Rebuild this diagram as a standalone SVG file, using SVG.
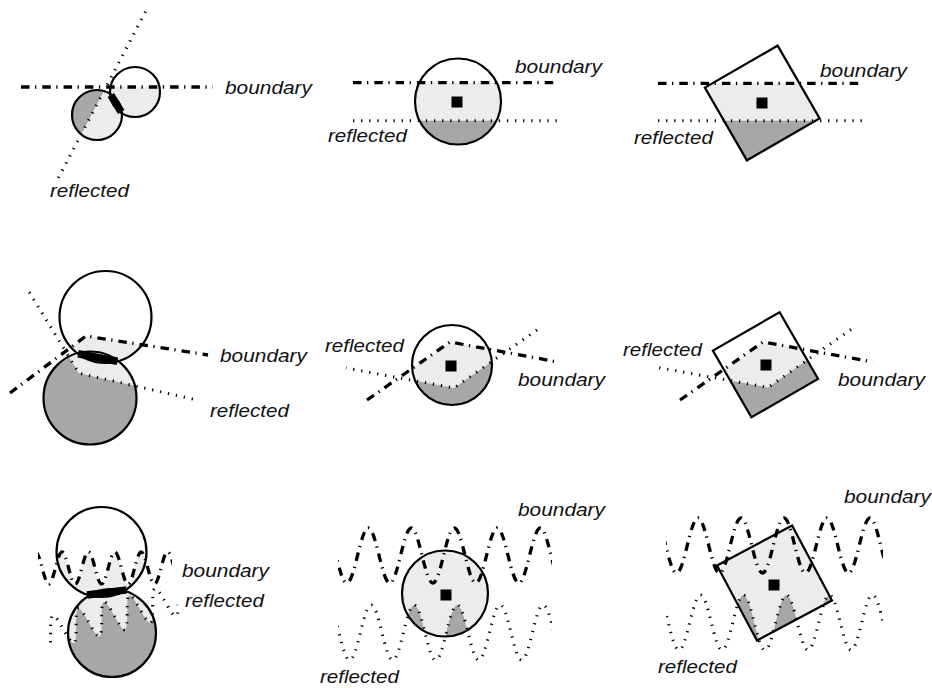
<svg xmlns="http://www.w3.org/2000/svg" width="932" height="688" viewBox="0 0 932 688">
<style>
.lt{fill:#ececec}
.dk{fill:#a7a7a7}
.ol{fill:none;stroke:#000;stroke-width:2.2}
.bd{fill:none;stroke:#000;stroke-width:3.3;stroke-dasharray:8.5 5.5 1.3 6}
.rf{fill:none;stroke:#000;stroke-width:3;stroke-dasharray:1.3 6.8}
.bar{stroke:#000;stroke-width:7.5}
.sq{fill:#000}
.lbl{font-family:"Liberation Sans",Arial,sans-serif;font-style:italic;font-size:19px;fill:#111}
</style>
<defs>
<clipPath id="c1a"><circle cx="135" cy="92" r="25"/></clipPath>
<clipPath id="c1b"><circle cx="97" cy="115" r="25"/></clipPath>
<clipPath id="c2"><circle cx="458" cy="101.5" r="43"/></clipPath>
<clipPath id="c3"><rect x="-42" y="-42" width="84" height="84" transform="translate(762.25,103) rotate(-30)"/></clipPath>
<clipPath id="c4a"><circle cx="105.5" cy="317" r="46"/></clipPath>
<clipPath id="c4b"><circle cx="90" cy="398" r="46.5"/></clipPath>
<clipPath id="c5"><circle cx="452" cy="365" r="40"/></clipPath>
<clipPath id="c6"><rect x="-38.5" y="-38.5" width="77" height="77" transform="translate(765.5,364.75) rotate(-30)"/></clipPath>
<clipPath id="c7a"><circle cx="101.5" cy="552" r="45"/></clipPath>
<clipPath id="c7b"><circle cx="112" cy="633" r="44"/></clipPath>
<clipPath id="c8"><circle cx="445" cy="593.5" r="43"/></clipPath>
<clipPath id="c9"><rect x="-42.5" y="-42.5" width="85" height="85" transform="translate(774.5,583) rotate(-28)"/></clipPath>
<clipPath id="w7"><rect x="38" y="400" width="134" height="300"/></clipPath>
<clipPath id="w8"><rect x="338" y="400" width="214" height="300"/></clipPath>
<clipPath id="w9"><rect x="666" y="400" width="217" height="300"/></clipPath>
</defs>
<rect width="932" height="688" fill="#fff"/>

<g id="panel1">
  <rect class="lt" x="100" y="87" width="70" height="40" clip-path="url(#c1a)"/>
  <circle class="lt" cx="97" cy="115" r="25"/>
  <g clip-path="url(#c1b)"><path class="dk" d="M0,87 L240,87 L240,-40 L0,-40 Z" transform="translate(116,103.5) rotate(58.83) scale(1,-1) rotate(-58.83) translate(-116,-103.5)"/></g>
  <path class="bd" d="M21,87 L213,87"/>
  <path class="rf" d="M21,87 L213,87" transform="translate(116,103.5) rotate(58.83) scale(1,-1) rotate(-58.83) translate(-116,-103.5)"/>
  <circle class="ol" cx="135" cy="92" r="25"/>
  <circle class="ol" cx="97" cy="115" r="25"/>
  <line class="bar" x1="110.8" y1="95" x2="121.2" y2="112"/>
  <text class="lbl" x="225" y="94" textLength="87" lengthAdjust="spacingAndGlyphs">boundary</text>
  <text class="lbl" x="50" y="197" textLength="79" lengthAdjust="spacingAndGlyphs">reflected</text>
</g>

<g id="panel2">
  <rect class="lt" x="410" y="82.7" width="100" height="70" clip-path="url(#c2)"/>
  <rect class="dk" x="410" y="120.7" width="100" height="40" clip-path="url(#c2)"/>
  <path class="bd" d="M353,82.7 L558,82.7"/>
  <path class="rf" d="M353,120.7 L560,120.7"/>
  <circle class="ol" cx="458" cy="101.5" r="43"/>
  <rect class="sq" x="451.5" y="96.5" width="11" height="11"/>
  <text class="lbl" x="515" y="72.5" textLength="87" lengthAdjust="spacingAndGlyphs">boundary</text>
  <text class="lbl" x="328" y="141.5" textLength="79" lengthAdjust="spacingAndGlyphs">reflected</text>
</g>

<g id="panel3">
  <rect class="lt" x="690" y="83.3" width="150" height="90" clip-path="url(#c3)"/>
  <rect class="dk" x="690" y="120.7" width="150" height="60" clip-path="url(#c3)"/>
  <path class="bd" d="M658,83.3 L863,83.3"/>
  <path class="rf" d="M658,120.7 L865,120.7"/>
  <rect class="ol" x="-42" y="-42" width="84" height="84" transform="translate(762.25,103) rotate(-30)"/>
  <rect class="sq" x="756.5" y="97.5" width="11" height="11"/>
  <text class="lbl" x="820" y="77" textLength="87" lengthAdjust="spacingAndGlyphs">boundary</text>
  <text class="lbl" x="634" y="144" textLength="79" lengthAdjust="spacingAndGlyphs">reflected</text>
</g>

<g id="panel4">
  <path class="lt" d="M-30,423 L86,336 L260,363.1 L260,500 L-30,500 Z" clip-path="url(#c4a)"/>
  <circle class="lt" cx="90" cy="398" r="46.5"/>
  <g clip-path="url(#c4b)"><path class="dk" d="M-30,423 L86,336 L260,363.1 L260,200 L-30,200 Z" transform="translate(97.75,357.5) rotate(10.84) scale(1,-1) rotate(-10.84) translate(-97.75,-357.5)"/></g>
  <path class="bd" d="M10,393 L86,336 L208,355"/>
  <path class="rf" d="M10,393 L86,336 L208,355" transform="translate(97.75,357.5) rotate(10.84) scale(1,-1) rotate(-10.84) translate(-97.75,-357.5)"/>
  <circle class="ol" cx="105.5" cy="317" r="46"/>
  <circle class="ol" cx="90" cy="398" r="46.5"/>
  <line class="bar" x1="78.1" y1="353.7" x2="117.4" y2="361.3"/>
  <text class="lbl" x="220" y="362" textLength="87" lengthAdjust="spacingAndGlyphs">boundary</text>
  <text class="lbl" x="210" y="417" textLength="79" lengthAdjust="spacingAndGlyphs">reflected</text>
</g>

<g id="panel5">
  <path class="lt" d="M330,425.9 L450,342 L600,369.8 L600,480 L330,480 Z" clip-path="url(#c5)"/>
  <g clip-path="url(#c5)"><path class="dk" d="M330,425.9 L450,342 L600,369.8 L600,250 L330,250 Z" transform="rotate(180,452,365)"/></g>
  <path class="bd" d="M367,400 L450,342 L558,362"/>
  <path class="rf" d="M367,400 L450,342 L558,362" transform="rotate(180,452,365)"/>
  <circle class="ol" cx="452" cy="365" r="40"/>
  <rect class="sq" x="445.5" y="360.5" width="11" height="11"/>
  <text class="lbl" x="325" y="352" textLength="79" lengthAdjust="spacingAndGlyphs">reflected</text>
  <text class="lbl" x="518" y="386" textLength="87" lengthAdjust="spacingAndGlyphs">boundary</text>
</g>

<g id="panel6">
  <path class="lt" d="M640,428 L763,342 L920,370.5 L920,480 L640,480 Z" clip-path="url(#c6)"/>
  <g clip-path="url(#c6)"><path class="dk" d="M640,428 L763,342 L920,370.5 L920,250 L640,250 Z" transform="rotate(180,765.5,364.75)"/></g>
  <path class="bd" d="M680,400 L763,342 L873,362"/>
  <path class="rf" d="M680,400 L763,342 L873,362" transform="rotate(180,765.5,364.75)"/>
  <rect class="ol" x="-38.5" y="-38.5" width="77" height="77" transform="translate(765.5,364.75) rotate(-30)"/>
  <rect class="sq" x="760.5" y="359.5" width="11" height="11"/>
  <text class="lbl" x="623" y="356" textLength="79" lengthAdjust="spacingAndGlyphs">reflected</text>
  <text class="lbl" x="838" y="386" textLength="87" lengthAdjust="spacingAndGlyphs">boundary</text>
</g>

<g id="panel7">
  <path class="lt" clip-path="url(#c7a)" d="M35.6,552 c4.8,0 8.4,32 13.2,32 s8.4,-32 13.2,-32 s8.4,32 13.2,32 s8.4,-32 13.2,-32 s8.4,32 13.2,32 s8.4,-32 13.2,-32 s8.4,32 13.2,32 s8.4,-32 13.2,-32 s8.4,32 13.2,32 s8.4,-32 13.2,-32 s8.4,32 13.2,32 L200,584 L200,720 L20,720 L20,552 Z"/>
  <circle class="lt" cx="112" cy="633" r="44"/>
  <g clip-path="url(#c7b)"><path class="dk" transform="translate(106.75,592.5) rotate(-7.39) scale(1,-1) rotate(7.39) translate(-106.75,-592.5)" d="M35.6,552 c4.8,0 8.4,32 13.2,32 s8.4,-32 13.2,-32 s8.4,32 13.2,32 s8.4,-32 13.2,-32 s8.4,32 13.2,32 s8.4,-32 13.2,-32 s8.4,32 13.2,32 s8.4,-32 13.2,-32 s8.4,32 13.2,32 s8.4,-32 13.2,-32 s8.4,32 13.2,32 L200,584 L200,420 L20,420 L20,552 Z"/></g>
  <path class="bd" clip-path="url(#w7)" d="M35.6,552 c4.8,0 8.4,32 13.2,32 s8.4,-32 13.2,-32 s8.4,32 13.2,32 s8.4,-32 13.2,-32 s8.4,32 13.2,32 s8.4,-32 13.2,-32 s8.4,32 13.2,32 s8.4,-32 13.2,-32 s8.4,32 13.2,32 s8.4,-32 13.2,-32 s8.4,32 13.2,32"/>
  <g transform="translate(106.75,592.5) rotate(-7.39) scale(1,-1) rotate(7.39) translate(-106.75,-592.5)"><path class="rf" clip-path="url(#w7)" d="M35.6,552 c4.8,0 8.4,32 13.2,32 s8.4,-32 13.2,-32 s8.4,32 13.2,32 s8.4,-32 13.2,-32 s8.4,32 13.2,32 s8.4,-32 13.2,-32 s8.4,32 13.2,32 s8.4,-32 13.2,-32 s8.4,32 13.2,32 s8.4,-32 13.2,-32 s8.4,32 13.2,32"/></g>
  <circle class="ol" cx="101.5" cy="552" r="45"/>
  <circle class="ol" cx="112" cy="633" r="44"/>
  <line class="bar" x1="87" y1="595" x2="126.6" y2="589.9"/>
  <text class="lbl" x="182" y="577" textLength="87" lengthAdjust="spacingAndGlyphs">boundary</text>
  <text class="lbl" x="185" y="607" textLength="79" lengthAdjust="spacingAndGlyphs">reflected</text>
</g>

<g id="panel8">
  <circle class="lt" cx="445" cy="593.5" r="43"/>
  <g clip-path="url(#c8)"><path class="dk" transform="rotate(180,445,594)" d="M325.3,528 c7.81,0 13.69,55 21.5,55 s13.69,-55 21.5,-55 s13.69,55 21.5,55 s13.69,-55 21.5,-55 s13.69,55 21.5,55 s13.69,-55 21.5,-55 s13.69,55 21.5,55 s13.69,-55 21.5,-55 s13.69,55 21.5,55 s13.69,-55 21.5,-55 s13.69,55 21.5,55 L580,583 L580,480 L310,480 L310,528 Z"/></g>
  <path class="bd" clip-path="url(#w8)" d="M325.3,528 c7.81,0 13.69,55 21.5,55 s13.69,-55 21.5,-55 s13.69,55 21.5,55 s13.69,-55 21.5,-55 s13.69,55 21.5,55 s13.69,-55 21.5,-55 s13.69,55 21.5,55 s13.69,-55 21.5,-55 s13.69,55 21.5,55 s13.69,-55 21.5,-55 s13.69,55 21.5,55"/>
  <g transform="rotate(180,445,594)"><path class="rf" clip-path="url(#w8)" d="M325.3,528 c7.81,0 13.69,55 21.5,55 s13.69,-55 21.5,-55 s13.69,55 21.5,55 s13.69,-55 21.5,-55 s13.69,55 21.5,55 s13.69,-55 21.5,-55 s13.69,55 21.5,55 s13.69,-55 21.5,-55 s13.69,55 21.5,55 s13.69,-55 21.5,-55 s13.69,55 21.5,55"/></g>
  <circle class="ol" cx="445" cy="593.5" r="43"/>
  <rect class="sq" x="440.5" y="589.5" width="11" height="11"/>
  <text class="lbl" x="518" y="516" textLength="87" lengthAdjust="spacingAndGlyphs">boundary</text>
  <text class="lbl" x="320" y="683" textLength="79" lengthAdjust="spacingAndGlyphs">reflected</text>
</g>

<g id="panel9">
  <rect class="lt" x="700" y="510" width="150" height="150" clip-path="url(#c9)"/>
  <g clip-path="url(#c9)"><path class="dk" transform="rotate(180,774.5,584)" d="M655,518 c7.81,0 13.69,55 21.5,55 s13.69,-55 21.5,-55 s13.69,55 21.5,55 s13.69,-55 21.5,-55 s13.69,55 21.5,55 s13.69,-55 21.5,-55 s13.69,55 21.5,55 s13.69,-55 21.5,-55 s13.69,55 21.5,55 s13.69,-55 21.5,-55 s13.69,55 21.5,55 L910,573 L910,470 L640,470 L640,518 Z"/></g>
  <path class="bd" clip-path="url(#w9)" d="M655,518 c7.81,0 13.69,55 21.5,55 s13.69,-55 21.5,-55 s13.69,55 21.5,55 s13.69,-55 21.5,-55 s13.69,55 21.5,55 s13.69,-55 21.5,-55 s13.69,55 21.5,55 s13.69,-55 21.5,-55 s13.69,55 21.5,55 s13.69,-55 21.5,-55 s13.69,55 21.5,55"/>
  <g transform="rotate(180,774.5,584)"><path class="rf" clip-path="url(#w9)" d="M655,518 c7.81,0 13.69,55 21.5,55 s13.69,-55 21.5,-55 s13.69,55 21.5,55 s13.69,-55 21.5,-55 s13.69,55 21.5,55 s13.69,-55 21.5,-55 s13.69,55 21.5,55 s13.69,-55 21.5,-55 s13.69,55 21.5,55 s13.69,-55 21.5,-55 s13.69,55 21.5,55"/></g>
  <rect class="ol" x="-42.5" y="-42.5" width="85" height="85" transform="translate(774.5,583) rotate(-28)"/>
  <rect class="sq" x="768.5" y="579.5" width="11" height="11"/>
  <text class="lbl" x="844" y="503" textLength="87" lengthAdjust="spacingAndGlyphs">boundary</text>
  <text class="lbl" x="658" y="673" textLength="79" lengthAdjust="spacingAndGlyphs">reflected</text>
</g>
</svg>
